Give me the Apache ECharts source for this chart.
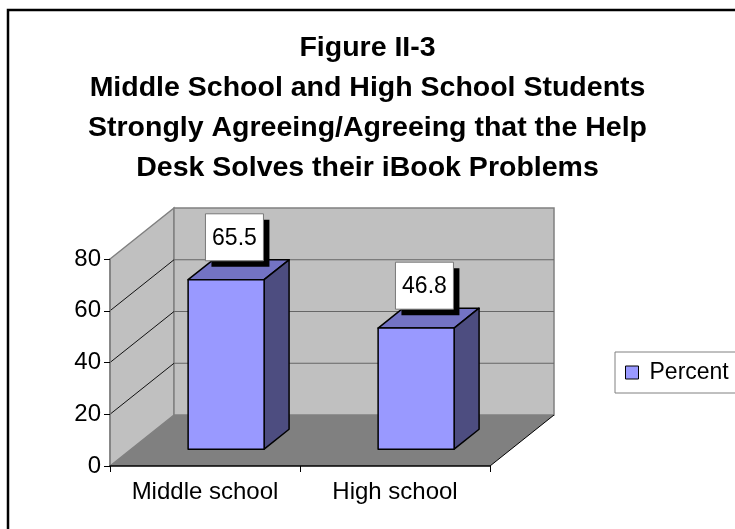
<!DOCTYPE html>
<html>
<head>
<meta charset="utf-8">
<script src="https://cdn.jsdelivr.net/npm/echarts@6/dist/echarts.min.js"></script>
<style>
  html, body { margin: 0; padding: 0; background: #fff; overflow: hidden; }
  #chart { width: 735px; height: 529px; }
</style>
</head>
<body>
<div id="chart"></div>
<script>
// ---- Data ----
const categories = ['Middle school', 'High school'];
const percentValues = [65.5, 46.8];
const yTicks = [0, 20, 40, 60, 80];
const seriesName = 'Percent';
const titleLines = [
  'Figure II-3',
  'Middle School and High School Students',
  'Strongly Agreeing/Agreeing that the Help',
  'Desk Solves their iBook Problems'
];

// ---- Style constants (3D projection look) ----
const DX = 64, DY = -51;          // depth offset of the back wall, px
const BAR_FRONT = 0.33, BAR_BACK = 0.72; // bar depth fraction
const BAR_W = 0.4;                // bar width / category band
const FONT = '"Liberation Sans", Arial, sans-serif';

const chart = echarts.init(document.getElementById('chart'));

function wallsRender(params, api) {
  const cs = params.coordSys;
  const x0 = cs.x, x1 = cs.x + cs.width;
  const yB = api.coord([0, yTicks[0]])[1];
  const yT = api.coord([0, yTicks[yTicks.length - 1]])[1];
  const wallStyle = { fill: '#C0C0C0', stroke: '#808080', lineWidth: 1.5 };
  return {
    type: 'group',
    children: [
      { type: 'polygon', shape: { points: [[x0, yB], [x0 + DX, yB + DY], [x0 + DX, yT + DY], [x0, yT]] }, style: wallStyle },
      { type: 'polygon', shape: { points: [[x0 + DX, yT + DY], [x1 + DX, yT + DY], [x1 + DX, yB + DY], [x0 + DX, yB + DY]] }, style: wallStyle },
      { type: 'polygon', shape: { points: [[x0, yB], [x1, yB], [x1 + DX, yB + DY], [x0 + DX, yB + DY]] }, style: { fill: '#808080' } },
      { type: 'line', shape: { x1: x1, y1: yB, x2: x1 + DX, y2: yB + DY }, style: { stroke: '#000', lineWidth: 1 } }
    ]
  };
}

function gridRender(params, api) {
  const cs = params.coordSys;
  const x0 = cs.x, x1 = cs.x + cs.width;
  const y = api.coord([0, api.value(1)])[1];
  return {
    type: 'group',
    children: [
      { type: 'line', shape: { x1: x0 + DX, y1: y + DY, x2: x1 + DX, y2: y + DY }, style: { stroke: '#666', lineWidth: 1.2 } },
      { type: 'line', shape: { x1: x0, y1: y, x2: x0 + DX, y2: y + DY }, style: { stroke: '#111', lineWidth: 1 } }
    ]
  };
}

function barRender(params, api) {
  const idx = api.value(0);
  const val = api.value(1);
  const base = api.coord([idx, 0]);
  const top = api.coord([idx, val]);
  const band = api.size([1, 0])[0];
  const w = band * BAR_W;
  const xl = base[0] - w / 2, xr = base[0] + w / 2;
  const yb = base[1], yt = top[1];
  const fdx = BAR_FRONT * DX, fdy = BAR_FRONT * DY;
  const bdx = BAR_BACK * DX, bdy = BAR_BACK * DY;
  const edge = { stroke: '#000', lineWidth: 1.5, lineJoin: 'round' };
  const lblCx = base[0] + 0.46 * DX;
  const boxW = 58, boxH = 47;
  const boxBottom = yt + bdy + 1;
  const boxX = lblCx - boxW / 2, boxY = boxBottom - boxH;
  return {
    type: 'group',
    children: [
      { type: 'polygon', shape: { points: [[xl + fdx, yt + fdy], [xr + fdx, yt + fdy], [xr + bdx, yt + bdy], [xl + bdx, yt + bdy]] },
        style: Object.assign({ fill: '#7373C4' }, edge) },
      { type: 'polygon', shape: { points: [[xr + fdx, yt + fdy], [xr + bdx, yt + bdy], [xr + bdx, yb + bdy], [xr + fdx, yb + fdy]] },
        style: Object.assign({ fill: '#4D4D80' }, edge) },
      { type: 'rect', shape: { x: xl + fdx, y: yt + fdy, width: w, height: yb - yt },
        style: Object.assign({ fill: '#9999FF' }, edge) },
      { type: 'rect', shape: { x: boxX + 6, y: boxY + 6, width: boxW, height: boxH }, style: { fill: '#000' } },
      { type: 'rect', shape: { x: boxX, y: boxY, width: boxW, height: boxH }, style: { fill: '#fff', stroke: '#777', lineWidth: 1 } },
      { type: 'text', style: { text: String(val), x: lblCx, y: boxY + boxH / 2 + 1, align: 'center', verticalAlign: 'middle',
          fill: '#000', font: '23px ' + FONT } }
    ]
  };
}

const option = {
  animation: false,
  backgroundColor: '#fff',
  title: {
    text: titleLines.join('\n'),
    left: 'center',
    top: 28,
    padding: [0, 0, 0, 7],
    textStyle: { fontSize: 28.5, fontWeight: 'bold', lineHeight: 40, color: '#000', fontFamily: FONT }
  },
  legend: {
    left: 615,
    top: 352,
    orient: 'vertical',
    padding: [9, 10, 9, 10],
    borderColor: '#808080',
    borderWidth: 1,
    itemWidth: 13,
    itemHeight: 13,
    selectedMode: false,
    textStyle: { fontSize: 23, color: '#000', fontFamily: FONT, padding: [0, 0, 0, 6] },
    data: [{ name: seriesName, icon: 'rect', itemStyle: { color: '#9999FF', borderColor: '#000', borderWidth: 1 } }]
  },
  graphic: [
    { type: 'polyline', shape: { points: [[8, 700], [8, 10], [900, 10]] }, style: { fill: 'none', stroke: '#000', lineWidth: 2.5 }, z: 100 }
  ],
  grid: { left: 110, top: 259, width: 380, height: 207 },
  xAxis: {
    type: 'category',
    data: categories,
    z: 10,
    axisLine: { lineStyle: { color: '#000', width: 1.5 } },
    axisTick: { show: true, interval: 0, length: 6, lineStyle: { color: '#000' } },
    axisLabel: { interval: 0, fontSize: 24, color: '#000', margin: 14, fontFamily: FONT },
    splitLine: { show: false }
  },
  yAxis: {
    type: 'value',
    min: yTicks[0],
    max: yTicks[yTicks.length - 1],
    interval: yTicks[1] - yTicks[0],
    z: 10,
    axisLine: { show: true, lineStyle: { color: '#808080', width: 1.5 } },
    axisTick: { show: true, length: 6, lineStyle: { color: '#000' } },
    axisLabel: { fontSize: 24, color: '#000', margin: 9, fontFamily: FONT },
    splitLine: { show: false }
  },
  series: [
    { type: 'custom', name: 'walls', silent: true, z: 1, renderItem: wallsRender, data: [[0, 0]] },
    { type: 'custom', name: 'gridlines', silent: true, z: 2,
      renderItem: gridRender, data: yTicks.slice(1, -1).map(v => [0, v]) },
    { type: 'custom', name: seriesName, z: 5, renderItem: barRender,
      itemStyle: { color: '#9999FF' },
      data: percentValues.map((v, i) => [i, v]) }
  ]
};
chart.setOption(option);
</script>
</body>
</html>
